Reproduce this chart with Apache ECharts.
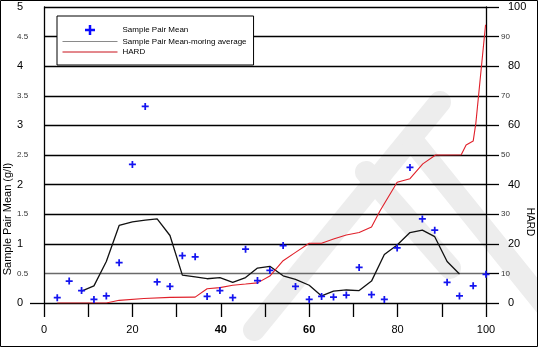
<!DOCTYPE html>
<html>
<head>
<meta charset="utf-8">
<script src="https://cdn.jsdelivr.net/npm/echarts@6/dist/echarts.min.js"></script>
<style>
  html, body { margin: 0; padding: 0; background: #fff; }
  #chart { width: 538px; height: 347px; }
</style>
</head>
<body>
<div id="chart"></div>
<script>
// Sample positions along the run (percent of distance)
const samplePos = [3.0, 5.7, 8.5, 11.3, 14.1, 17.0, 20.0, 22.9, 25.6, 28.5, 31.3, 34.2,
  36.9, 39.8, 42.7, 45.6, 48.3, 51.1, 54.1, 56.9, 60.0, 62.8, 65.5, 68.4, 71.3, 74.1,
  77.0, 79.9, 82.8, 85.6, 88.4, 91.2, 94.0, 97.1, 100];

// Sample pair mean (g/l)
const pairMean = [0.09, 0.37, 0.21, 0.06, 0.12, 0.68, 2.34, 3.32, 0.355, 0.28, 0.80, 0.78,
  0.11, 0.21, 0.09, 0.91, 0.38, 0.55, 0.97, 0.28, 0.06, 0.11, 0.10, 0.135, 0.60, 0.14,
  0.06, 0.93, 2.29, 1.42, 1.23, 0.35, 0.12, 0.29, 0.485];

// Moving average of the pair mean (undefined at both ends)
const movingAvg = [null, null, 0.20, 0.29, 0.70, 1.31, 1.37, 1.40, 1.42, 1.14, 0.47, 0.44,
  0.41, 0.43, 0.35, 0.43, 0.59, 0.62, 0.46, 0.40, 0.30, 0.12, 0.20, 0.22, 0.21, 0.37,
  0.82, 0.98, 1.19, 1.23, 1.12, 0.70, 0.49, null, null];

// HARD curve (right axis)
const hardPos = [3.0, 14.1, 17.0, 22.6, 28.5, 34.2, 36.9, 39.8, 42.7, 45.6, 48.3, 51.1,
  54.1, 56.9, 60.0, 62.8, 65.5, 68.4, 71.3, 74.1, 76.0, 79.9, 82.8, 85.7, 88.6, 94.4,
  95.5, 97.1, 97.7, 99.9];
const hardVal = [0, 0, 0.9, 1.5, 1.9, 2.0, 4.8, 5.2, 6.0, 6.4, 6.8, 9.1,
  14.3, 17.1, 20.2, 20.2, 21.6, 23.0, 23.8, 25.7, 31.1, 40.8, 42.0, 47.0, 50.0, 50.1,
  53.4, 54.7, 60.7, 94.0];

const seriesNames = ['Sample Pair Mean', 'Sample Pair Mean-moring average', 'HARD'];
const leftAxisName = 'Sample Pair Mean (g/l)';
const rightAxisName = 'HARD';

const FONT = '"Liberation Sans", Arial, sans-serif';
const PLUS = 'path://M3,0H5V3H8V5H5V8H3V5H0V3H3Z';
const BLUE = '#1414f0';
const RED = '#e0202a';
const HIDDEN = 'rgba(0,0,0,0)';

const chart = echarts.init(document.getElementById('chart'), null, { renderer: 'canvas' });

const meanData = samplePos.map((x, i) => [x, pairMean[i]]);
const avgData = samplePos.map((x, i) => [x, movingAvg[i]]).filter(p => p[1] !== null);
const hardData = hardPos.map((x, i) => [x, hardVal[i]]);

// horizontal rules: the one at 10 (0.5 g/l) is lighter than the rest
const gridLineColors = [];
for (let i = 0; i <= 10; i++) gridLineColors.push(i === 1 ? '#6a6a6a' : '#000');

// faint diagonal strokes of the background stamp
const stampStroke = { stroke: '#ededed', lineWidth: 22, lineCap: 'round' };
const stamp = [
  [440, 102, 254, 330],
  [412, 140, 545, 305],
  [366, 172, 450, 268]
].map(s => ({
  type: 'line', silent: true, z: -10,
  shape: { x1: s[0], y1: s[1], x2: s[2], y2: s[3] },
  style: stampStroke
}));

const option = {
  animation: false,
  backgroundColor: '#fff',
  textStyle: { fontFamily: FONT },
  grid: { left: 44, right: 52, top: 7, bottom: 44, containLabel: false },
  legend: {
    orient: 'vertical',
    left: 57, top: 16,
    padding: [9, 7, 9, 5],
    itemGap: 2.5,
    itemWidth: 55, itemHeight: 10,
    borderColor: '#000', borderWidth: 1,
    backgroundColor: '#fff',
    selectedMode: false,
    textStyle: { fontSize: 8, color: '#000', fontFamily: FONT },
    data: [
      { name: seriesNames[0], icon: PLUS, itemStyle: { color: '#0a0aff' } },
      { name: seriesNames[1], itemStyle: { color: HIDDEN, borderWidth: 0 }, lineStyle: { color: '#8a8a8a', width: 1 } },
      { name: seriesNames[2], itemStyle: { color: HIDDEN, borderWidth: 0 }, lineStyle: { color: '#c8101a', width: 1 } }
    ]
  },
  xAxis: {
    type: 'value', min: 0, max: 100, interval: 10,
    axisLine: { show: false },
    axisTick: { show: true, length: 14, lineStyle: { color: '#000', width: 1.3 } },
    splitLine: { show: false },
    axisLabel: {
      margin: 21, color: '#000', fontSize: 11, fontFamily: FONT,
      formatter: v => (v % 20 === 0 ? (v === 40 || v === 60 ? '{b|' + v + '}' : String(v)) : ''),
      rich: { b: { fontWeight: 'bold', fontSize: 11, fontFamily: FONT } }
    }
  },
  yAxis: [
    {
      type: 'value', min: 0, max: 5, interval: 0.5, position: 'left',
      axisLine: { show: true, lineStyle: { color: '#000', width: 1.3 } },
      axisTick: { show: true, customValues: [0], length: 14, lineStyle: { color: '#000', width: 1.3 } },
      splitLine: { show: false },
      axisLabel: {
        margin: 27, align: 'left', color: '#000',
        formatter: v => (Math.abs(v - Math.round(v)) < 1e-9 ? '{b|' + v + '}' : '{s|' + v + '}'),
        rich: {
          b: { fontSize: 11, color: '#000', fontFamily: FONT },
          s: { fontSize: 8, color: '#333', fontFamily: FONT }
        }
      }
    },
    {
      type: 'value', min: 0, max: 100, interval: 10, position: 'right',
      axisLine: { show: true, lineStyle: { color: '#000', width: 1.3 } },
      axisTick: { show: true, length: 13, lineStyle: { color: '#000', width: 1.3 } },
      splitLine: { show: true, lineStyle: { color: gridLineColors, width: 1.4 } },
      axisLabel: {
        margin: 15, align: 'left', color: '#000',
        formatter: v => (v % 20 === 0 ? '{b|' + v + '}' : '{s|' + v + '}'),
        rich: {
          b: { fontSize: 11, color: '#000', padding: [0, 0, 0, 7], fontFamily: FONT },
          s: { fontSize: 8, color: '#333', fontFamily: FONT }
        }
      }
    }
  ],
  graphic: stamp.concat([
    {
      type: 'rect', silent: true, z: 100,
      shape: { x: 0.5, y: 0.5, width: 537, height: 346 },
      style: { fill: 'none', stroke: '#000', lineWidth: 1 }
    },
    {
      type: 'text', silent: true,
      x: 8, y: 219, rotation: Math.PI / 2,
      style: { text: leftAxisName, fontSize: 11, fontFamily: FONT, fill: '#000', align: 'center', verticalAlign: 'middle' }
    },
    {
      type: 'text', silent: true,
      x: 530, y: 222, rotation: -Math.PI / 2,
      style: { text: rightAxisName, fontSize: 10, fontFamily: FONT, fill: '#000', align: 'center', verticalAlign: 'middle' }
    }
  ]),
  series: [
    {
      name: seriesNames[0], type: 'scatter', yAxisIndex: 0,
      symbol: PLUS, symbolSize: 7, symbolKeepAspect: true,
      itemStyle: { color: BLUE, opacity: 1 },
      data: meanData, z: 4
    },
    {
      name: seriesNames[1], type: 'line', yAxisIndex: 0,
      symbol: 'none', showSymbol: false,
      lineStyle: { color: '#111', width: 1.3 },
      itemStyle: { color: '#111' },
      data: avgData, z: 3
    },
    {
      name: seriesNames[2], type: 'line', yAxisIndex: 1,
      symbol: 'none', showSymbol: false,
      lineStyle: { color: RED, width: 1.1 },
      itemStyle: { color: RED },
      data: hardData, z: 3
    }
  ]
};

chart.setOption(option);
</script>
</body>
</html>
